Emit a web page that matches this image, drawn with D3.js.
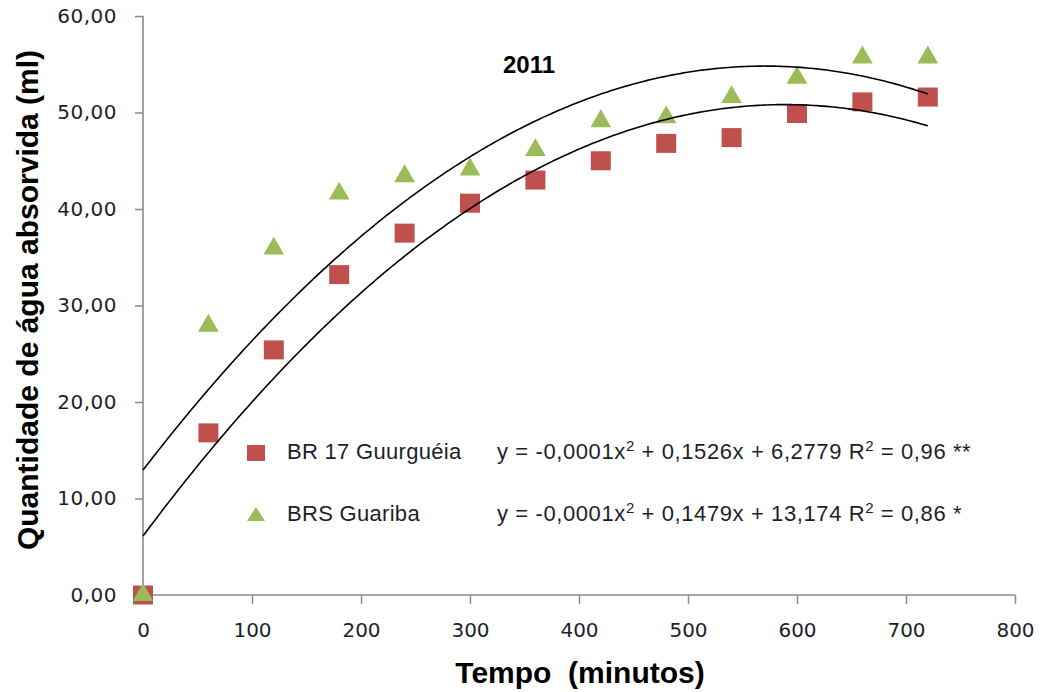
<!DOCTYPE html>
<html>
<head>
<meta charset="utf-8">
<script src="https://cdn.jsdelivr.net/npm/d3@7"></script>
<style>
  html, body { margin: 0; padding: 0; background: #fff; }
  svg { display: block; }
</style>
</head>
<body>
<svg id="chart" width="1040" height="692"></svg>
<script>
// Sampling times (minutes)
const tempo = [0, 60, 120, 180, 240, 300, 360, 420, 480, 540, 600, 660, 720];
// Water absorbed (ml) per cultivar
const br17 = [0.0, 16.8, 25.4, 33.2, 37.5, 40.6, 43.0, 45.0, 46.8, 47.4, 49.9, 51.1, 51.6];
const guariba = [0.0, 27.9, 35.9, 41.6, 43.4, 44.1, 46.1, 49.1, 49.5, 51.6, 53.6, 55.7, 55.7];

const xTicks = [0, 100, 200, 300, 400, 500, 600, 700, 800];
const yTicks = [0, 10, 20, 30, 40, 50, 60];

const seriesNames = ["BR 17 Guurguéia", "BRS Guariba"];
const equations = [
  ["y = -0,0001x", "2", " + 0,1526x + 6,2779 R", "2", " = 0,96 **"],
  ["y = -0,0001x", "2", " + 0,1479x + 13,174 R", "2", " = 0,86 *"]
];
const yearLabel = "2011";

const colors = { br17: "#c0504d", guariba: "#9bbb59" };

const svg = d3.select("#chart");
const x = d3.scaleLinear().domain([0, 800]).range([143, 1015]);
const y = d3.scaleLinear().domain([0, 60]).range([595, 16]);

// Least-squares quadratic fit (second-order polynomial trendline)
function quadFit(xs, ys) {
  const n = xs.length;
  let s = [0, 0, 0, 0, 0], t = [0, 0, 0];
  for (let i = 0; i < n; i++) {
    const xi = xs[i], yi = ys[i];
    let p = 1;
    for (let k = 0; k <= 4; k++) { s[k] += p; if (k <= 2) t[k] += p * yi; p *= xi; }
  }
  // Normal equations: [[s4 s3 s2],[s3 s2 s1],[s2 s1 s0]] * [a b c] = [t2 t1 t0]
  const M = [[s[4], s[3], s[2], t[2]], [s[3], s[2], s[1], t[1]], [s[2], s[1], s[0], t[0]]];
  for (let i = 0; i < 3; i++) {
    let piv = i;
    for (let r = i + 1; r < 3; r++) if (Math.abs(M[r][i]) > Math.abs(M[piv][i])) piv = r;
    [M[i], M[piv]] = [M[piv], M[i]];
    for (let r = 0; r < 3; r++) {
      if (r === i) continue;
      const f = M[r][i] / M[i][i];
      for (let c = i; c < 4; c++) M[r][c] -= f * M[i][c];
    }
  }
  return [M[0][3] / M[0][0], M[1][3] / M[1][1], M[2][3] / M[2][2]];
}

// Axes
const axisColor = "#8a8a8a";
const tickFont = "'DejaVu Sans', Verdana, sans-serif";

const yAxis = svg.append("g")
  .attr("transform", `translate(${x(0)},0)`)
  .call(d3.axisLeft(y).tickValues(yTicks).tickSize(8).tickPadding(18)
    .tickFormat(d => d3.format(".2f")(d).replace(".", ",")));
yAxis.select(".domain").attr("stroke", axisColor).attr("stroke-width", 1.6)
  .attr("d", `M0,${y(60)}V${y(0)}`);
yAxis.selectAll(".tick line").attr("stroke", axisColor).attr("stroke-width", 1.5);
yAxis.selectAll(".tick text").attr("font-family", tickFont).attr("font-size", 20)
  .attr("fill", "#1e1e2a").attr("letter-spacing", 0.5);

const xAxis = svg.append("g")
  .attr("transform", `translate(0,${y(0)})`)
  .call(d3.axisBottom(x).tickValues(xTicks).tickSize(9).tickPadding(19).tickFormat(d3.format("d")));
xAxis.select(".domain").attr("stroke", axisColor).attr("stroke-width", 1.6)
  .attr("d", `M${x(0)},0H${x(800)}`);
xAxis.selectAll(".tick line").attr("stroke", axisColor).attr("stroke-width", 1.5);
xAxis.selectAll(".tick").filter(d => d === 0).select("line").remove();
xAxis.selectAll(".tick text").attr("font-family", tickFont).attr("font-size", 20)
  .attr("fill", "#1e1e2a");

// Axis titles
const titleFont = "'Liberation Sans', Arial, sans-serif";
svg.append("text")
  .attr("x", 580).attr("y", 683)
  .attr("text-anchor", "middle")
  .attr("font-family", titleFont).attr("font-weight", "bold").attr("font-size", 30)
  .attr("fill", "#000")
  .attr("xml:space", "preserve")
  .text("Tempo  (minutos)");

svg.append("text")
  .attr("transform", "translate(38,300) rotate(-90)")
  .attr("text-anchor", "middle")
  .attr("font-family", titleFont).attr("font-weight", "bold").attr("font-size", 30)
  .attr("fill", "#000")
  .text("Quantidade de água absorvida (ml)");

// Year label
svg.append("text")
  .attr("x", 503).attr("y", 73)
  .attr("font-family", titleFont).attr("font-weight", "bold").attr("font-size", 24)
  .attr("fill", "#000")
  .text(yearLabel);

// Data markers
const triSymbol = d3.symbol().type(d3.symbolTriangle).size(185);

const pts = tempo.map((t, i) => ({ t, a: br17[i], b: guariba[i] }));

svg.append("g").selectAll("rect")
  .data(pts).join("rect")
  .attr("x", d => x(d.t) - 10).attr("y", d => y(d.a) - 9.5)
  .attr("width", 20).attr("height", 19)
  .attr("fill", colors.br17);

svg.append("g").selectAll("path")
  .data(pts).join("path")
  .attr("transform", d => `translate(${x(d.t)},${y(d.b)})`)
  .attr("d", triSymbol)
  .attr("fill", colors.guariba);

// Polynomial trendlines
const fits = [quadFit(tempo, br17), quadFit(tempo, guariba)];
const xs = d3.range(0, 720.001, 3);
const line = d3.line().x(d => x(d[0])).y(d => y(d[1]));
fits.forEach(([a, b, c]) => {
  svg.append("path")
    .datum(xs.map(t => [t, a * t * t + b * t + c]))
    .attr("d", line)
    .attr("fill", "none")
    .attr("stroke", "#000")
    .attr("stroke-width", 1.6);
});

// Legend
const legendFont = "'Liberation Sans', Arial, sans-serif";
const legendRows = [
  { name: seriesNames[0], eq: equations[0], cy: 453, kind: "square" },
  { name: seriesNames[1], eq: equations[1], cy: 515, kind: "triangle" }
];
const legend = svg.append("g");
legendRows.forEach(r => {
  if (r.kind === "square") {
    legend.append("rect").attr("x", 247).attr("y", r.cy - 8).attr("width", 18).attr("height", 16)
      .attr("fill", colors.br17);
  } else {
    legend.append("path").attr("d", "M256,507L265,521L247,521Z").attr("fill", colors.guariba);
  }
  legend.append("text")
    .attr("x", 287).attr("y", r.cy + 6)
    .attr("font-family", legendFont).attr("font-size", 22).attr("letter-spacing", 0.3)
    .attr("fill", "#1e1e2a")
    .text(r.name);
  const eq = legend.append("text")
    .attr("x", 497).attr("y", r.cy + 6)
    .attr("font-family", legendFont).attr("font-size", 22).attr("letter-spacing", 0.6)
    .attr("fill", "#1e1e2a")
    .attr("xml:space", "preserve");
  r.eq.forEach((part, i) => {
    const ts = eq.append("tspan").text(part);
    if (part === "2") ts.attr("font-size", 15).attr("dy", -8);
    else if (i > 0) ts.attr("dy", 8);
  });
});
</script>
</body>
</html>
